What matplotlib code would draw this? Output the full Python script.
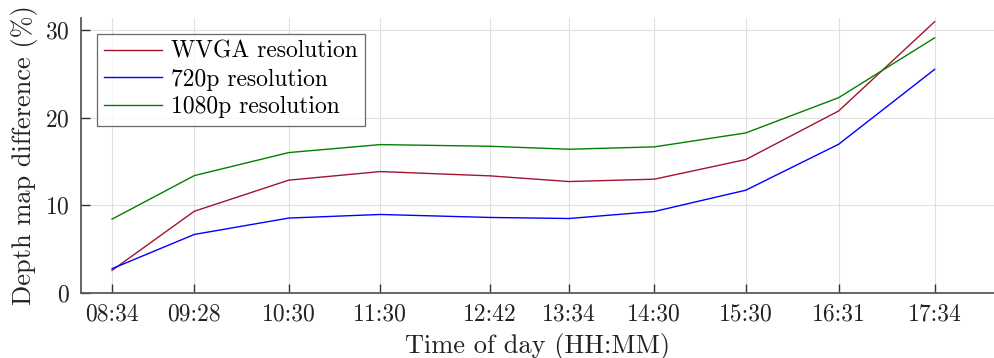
"""Depth map difference over the day for three camera resolutions."""

import matplotlib
matplotlib.use("Agg")
import matplotlib.pyplot as plt

# time of day for each measurement
times = ["08:34", "09:28", "10:30", "11:30", "12:42",
         "13:34", "14:30", "15:30", "16:31", "17:34"]

# depth map difference (%)
wvga = [2.55, 9.3, 12.85, 13.83, 13.34, 12.69, 12.96, 15.2, 20.75, 30.94]
hd720 = [2.74, 6.65, 8.52, 8.93, 8.59, 8.47, 9.27, 11.7, 16.95, 25.5]
hd1080 = [8.4, 13.37, 16.0, 16.91, 16.72, 16.38, 16.65, 18.24, 22.27, 29.1]


def to_minutes(t):
    h, m = t.split(":")
    return int(h) * 60 + int(m)


x = [to_minutes(t) for t in times]

plt.rcParams["font.family"] = ["cmr10", "DejaVu Serif"]
plt.rcParams["mathtext.fontset"] = "cm"
plt.rcParams["axes.formatter.use_mathtext"] = True

fig = plt.figure(figsize=(9.94, 3.58), dpi=100)
ax = fig.add_axes([0.0815, 0.1825, 0.9185, 0.768])

ax.plot(x, wvga, color="#A2142F", lw=1.0, label="WVGA resolution")
ax.plot(x, hd720, color="#0000FF", lw=1.0, label="720p resolution")
ax.plot(x, hd1080, color="#008000", lw=1.0, label="1080p resolution")

ax.set_xlim(493.6, 1093)
ax.set_ylim(0, 31.4)
ax.set_xticks(x)
ax.set_xticklabels(times)
ax.set_yticks([0, 10, 20, 30])

ax.grid(True, color="#e0e0e0", lw=0.8)
ax.set_axisbelow(True)
for side in ("top", "right"):
    ax.spines[side].set_visible(False)
for side in ("left", "bottom"):
    ax.spines[side].set_color("#5a5a5a")
    ax.spines[side].set_linewidth(1.3)
ax.tick_params(direction="in", length=6.5, width=1.0, color="#333333",
               labelsize=17, labelcolor="#222222", pad=8)

ax.set_xlabel("Time of day (HH:MM)", fontsize=19, color="#222222", labelpad=5)
ax.set_ylabel("Depth map difference (%)", fontsize=19, color="#222222", labelpad=5)

leg = ax.legend(loc="upper left", fontsize=17, frameon=True, fancybox=False,
                handlelength=2.45, handletextpad=0.4, borderpad=0.3,
                labelspacing=0.24, borderaxespad=0.0,
                bbox_to_anchor=(0.0175, 0.942))
leg.get_frame().set_edgecolor("#444444")
leg.get_frame().set_linewidth(0.9)

fig.savefig("out.png", dpi=100)
